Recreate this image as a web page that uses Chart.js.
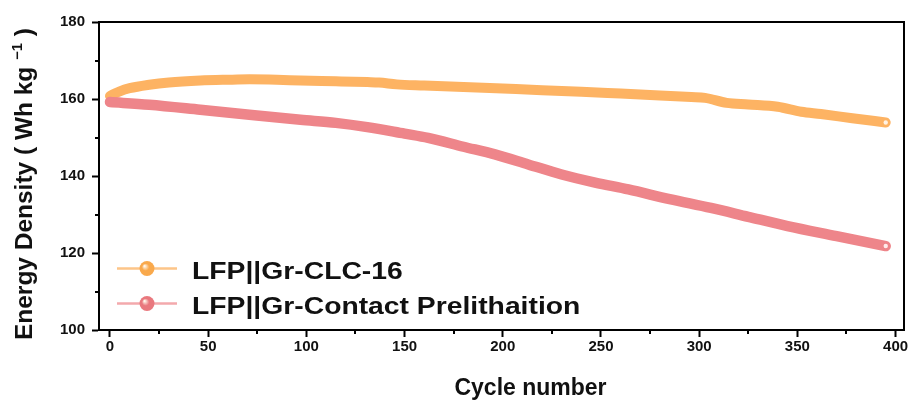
<!DOCTYPE html>
<html><head><meta charset="utf-8">
<script src="https://cdn.jsdelivr.net/npm/chart.js@4.4.1/dist/chart.umd.min.js"></script>
<style>html,body{margin:0;padding:0;background:#fff}#c{display:block}</style>
</head><body>
<canvas id="c" width="911" height="401" style="width:911px;height:401px"></canvas>
<script>
// ---- data ----
const seriesNames = ['LFP||Gr-CLC-16', 'LFP||Gr-Contact Prelithaition'];
const clcCycles = [0,5,10,20,30,46,60,71,85,97,115,131,137,146,160,180,200,220,240,260,280,296,303,314,325,340,352,362,378,395];
const clcValues = [160.8,162.0,162.8,163.7,164.3,164.8,165.0,165.1,165.0,164.8,164.6,164.4,164.3,163.8,163.5,163.1,162.7,162.3,161.9,161.4,160.9,160.5,160.3,159.0,158.6,158.0,156.7,156.1,155.0,153.9];
const contactCycles = [0,20,46,71,97,115,131,150,162,180,196,213,230,247,264,285,306,325,345,370,395];
const contactValues = [159.2,158.5,157.2,155.9,154.6,153.8,152.7,151.0,149.9,147.6,145.6,143.0,140.4,138.3,136.5,134.0,131.7,129.4,127.0,124.4,121.8];
const xTickValues = [0,50,100,150,200,250,300,350,400];
const xMinorTicks = [25,75,125,175,225,275,325,375];
const yTickValues = [100,120,140,160,180];
const yMinorTicks = [110,130,150,170];
const xTitle = 'Cycle number';
const yTitleMain = 'Energy Density ( Wh kg ';
const yTitleSup = '\u22121';
const yTitleEnd = ' )';

const FONT = "'Liberation Sans', Arial, sans-serif";
Chart.defaults.font.family = FONT;
Chart.defaults.color = '#111';

const colors = {
  line: ['#FDB363', '#EE858A'],
  legendLine: ['#FDC588', '#F3A9AC'],
  legendDot: ['#F9A94C', '#E9787E']
};

const toXY = (xs, ys) => xs.map((x, i) => ({x, y: ys[i]}));

const endPoint = (ctx) => ctx.dataIndex === ctx.dataset.data.length - 1 ? 2.2 : 0;

const minorTicks = {
  id: 'minorTicks',
  afterDraw(chart) {
    const {ctx, chartArea: a, scales: {x, y}} = chart;
    ctx.save();
    ctx.strokeStyle = '#000';
    ctx.lineWidth = 2;
    ctx.beginPath();
    xMinorTicks.forEach(v => { const p = Math.round(x.getPixelForValue(v)); ctx.moveTo(p, a.bottom); ctx.lineTo(p, a.bottom + 4); });
    yMinorTicks.forEach(v => { const p = Math.round(y.getPixelForValue(v)); ctx.moveTo(a.left, p); ctx.lineTo(a.left - 4, p); });
    ctx.stroke();
    // frame
    ctx.strokeRect(a.left, a.top, a.right - a.left, a.bottom - a.top);
    ctx.restore();
  }
};

const titles = {
  id: 'titles',
  afterDraw(chart) {
    const {ctx, chartArea: a} = chart;
    ctx.save();
    ctx.fillStyle = '#111';
    // x title
    ctx.font = 'bold 23px ' + FONT;
    ctx.textAlign = 'center';
    ctx.textBaseline = 'alphabetic';
    ctx.fillText(xTitle, (a.left + a.right) / 2 + 29, 395);
    // y title (rotated)
    ctx.translate(32, 340);
    ctx.rotate(-Math.PI / 2);
    ctx.textAlign = 'left';
    ctx.font = 'bold 23px ' + FONT;
    const w1 = ctx.measureText(yTitleMain).width;
    ctx.font = 'bold 14px ' + FONT;
    const w2 = ctx.measureText(yTitleSup).width;
    ctx.font = 'bold 23px ' + FONT;
    const w3 = ctx.measureText(yTitleEnd).width;
    const sx = 312 / (w1 + w2 + w3);
    ctx.scale(sx, 1);
    ctx.fillText(yTitleMain, 0, 0);
    ctx.font = 'bold 14px ' + FONT;
    ctx.fillText(yTitleSup, w1, -10);
    ctx.font = 'bold 23px ' + FONT;
    ctx.fillText(yTitleEnd, w1 + w2, 0);
    ctx.restore();
  }
};

const legendBox = {
  id: 'legendBox',
  afterDraw(chart) {
    const {ctx} = chart;
    const rows = [268.5, 303.5];
    chart.data.datasets.forEach((ds, i) => {
      const cy = rows[i];
      ctx.save();
      ctx.strokeStyle = colors.legendLine[i];
      ctx.lineWidth = 2.5;
      ctx.beginPath();
      ctx.moveTo(117, cy); ctx.lineTo(177, cy);
      ctx.stroke();
      const cx = 147, r = 7.5;
      const g = ctx.createRadialGradient(cx - 2.5, cy - 2.5, 0.5, cx, cy, r);
      g.addColorStop(0, '#FFF6EA');
      g.addColorStop(0.45, colors.legendDot[i]);
      g.addColorStop(1, colors.legendDot[i]);
      ctx.fillStyle = g;
      ctx.beginPath(); ctx.arc(cx, cy, r, 0, Math.PI * 2); ctx.fill();
      ctx.fillStyle = '#111';
      ctx.font = 'bold 23px ' + FONT;
      ctx.textBaseline = 'alphabetic';
      ctx.translate(192, cy + 10);
      ctx.scale(1.23, 1);
      ctx.fillText(ds.label, 0, 0);
      ctx.restore();
    });
  }
};

new Chart(document.getElementById('c'), {
  type: 'line',
  data: {
    datasets: [
      { label: seriesNames[0], data: toXY(clcCycles, clcValues), order: 1,
        borderColor: colors.line[0], borderWidth: 10, borderCapStyle: 'round', borderJoinStyle: 'round',
        cubicInterpolationMode: 'monotone', pointRadius: endPoint, pointBorderWidth: 0,
        pointBackgroundColor: 'rgba(255,246,235,0.95)', pointHoverRadius: 0, fill: false },
      { label: seriesNames[1], data: toXY(contactCycles, contactValues), order: 0,
        borderColor: colors.line[1], borderWidth: 10.5, borderCapStyle: 'round', borderJoinStyle: 'round',
        cubicInterpolationMode: 'monotone', pointRadius: endPoint, pointBorderWidth: 0,
        pointBackgroundColor: 'rgba(255,240,240,0.95)', pointHoverRadius: 0, fill: false }
    ]
  },
  options: {
    responsive: false,
    animation: false,
    events: [],
    layout: { padding: { top: 22, right: 7, left: 0, bottom: 0 } },
    plugins: { legend: { display: false }, tooltip: { enabled: false } },
    scales: {
      x: {
        type: 'linear', min: -5.6, max: 404.3,
        afterBuildTicks: s => { s.ticks = xTickValues.map(v => ({value: v})); },
        afterFit: s => { s.height = 71; },
        ticks: { font: { size: 15, weight: 'bold' }, color: '#111', padding: 1, maxRotation: 0, autoSkip: false },
        grid: { drawOnChartArea: false, drawTicks: true, tickLength: 7, tickWidth: 2, tickColor: '#000' },
        border: { display: true, color: '#000', width: 2 }
      },
      y: {
        type: 'linear', min: 100, max: 180,
        afterBuildTicks: s => { s.ticks = yTickValues.map(v => ({value: v})); },
        afterFit: s => { s.width = 99; },
        ticks: { font: { size: 15, weight: 'bold' }, color: '#111', padding: 7 },
        grid: { drawOnChartArea: false, drawTicks: true, tickLength: 7, tickWidth: 2, tickColor: '#000' },
        border: { display: true, color: '#000', width: 2 }
      }
    }
  },
  plugins: [minorTicks, titles, legendBox]
});
</script>
</body></html>
